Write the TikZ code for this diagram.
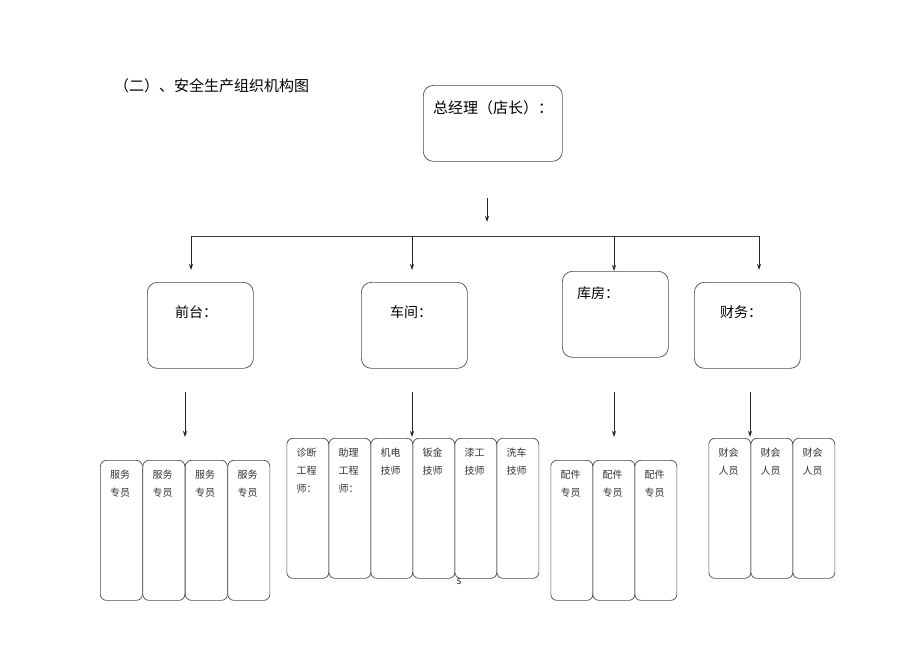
\documentclass[tikz,border=0pt]{standalone}
\usepackage{fontspec}
\setmainfont{Noto Sans CJK SC}
\usetikzlibrary{arrows.meta,calc}
\tikzset{
  box/.style={draw=black!70, line width=0.7pt, rounded corners=10pt, anchor=north west, inner sep=0pt},
  tbox/.style={draw=black!70, line width=0.7pt, rounded corners=6pt, anchor=north west, inner sep=0pt, minimum width=42pt, minimum height=140pt},
  ttext/.style={anchor=north west, inner sep=0pt, align=left, font=\fontsize{10}{18}\selectfont, text=black!80},
  btext/.style={anchor=west, inner sep=0pt, font=\fontsize{14}{16}\selectfont},
  arr/.style={draw=black!85, line width=0.8pt, -{Stealth[length=6pt,width=4pt]}},
  ln/.style={draw=black!75, line width=0.8pt}
}
\newcommand\tallbox[4]{%
  \node[tbox] (#1) at (#2,#3) {};
  \node[ttext] (#1t) at ($(#1.north west)+(10,10)$) {#4};}
\begin{document}
\begin{tikzpicture}[x=1pt,y=-1pt]
\useasboundingbox[fill=white] (0,0) rectangle (920,651);
% title
\node[anchor=west, inner sep=0pt, font=\fontsize{15}{17}\selectfont] (title) at (114,86) {（二）、安全生产组织机构图};
% top box
\node[box, minimum width=139pt, minimum height=76pt] (gm) at (423,85) {};
\node[anchor=west, inner sep=0pt, font=\fontsize{15}{17}\selectfont] (gmt) at (433,108) {总经理（店长）：};
% top arrow and bus
\coordinate (a0) at (487,198);
\coordinate (a1) at (487,222);
\draw[arr] (a0) -- (a1);
\coordinate (h1) at (191,236);
\coordinate (h2) at (412,236);
\coordinate (h3) at (614,236);
\coordinate (h4) at (759,236);
\draw[ln] (h1) -- (h4);
\coordinate (e1) at (191,270);
\coordinate (e2) at (412,270);
\coordinate (e3) at (614,271);
\coordinate (e4) at (759,270);
\draw[arr] (h1) -- (e1);
\draw[arr] (h2) -- (e2);
\draw[arr] (h3) -- (e3);
\draw[arr] (h4) -- (e4);
% second row
\node[box, minimum width=106pt, minimum height=86pt] (qt) at (147,282) {};
\node[btext] (qtt) at (175,312) {前台：};
\node[box, minimum width=106pt, minimum height=86pt] (cj) at (361,282) {};
\node[btext] (cjt) at (390,312) {车间：};
\node[box, minimum width=106pt, minimum height=86pt] (kf) at (562,271) {};
\node[btext] (kft) at (577,293) {库房：};
\node[box, minimum width=106pt, minimum height=86pt] (cw) at (694,282) {};
\node[btext] (cwt) at (720,312) {财务：};
% third-level arrows
\coordinate (s1) at (185,392); \coordinate (t1) at (185,437);
\coordinate (s2) at (412,392); \coordinate (t2) at (412,437);
\coordinate (s3) at (614,392); \coordinate (t3) at (614,437);
\coordinate (s4) at (750,392); \coordinate (t4) at (750,437);
\draw[arr] (s1) -- (t1);
\draw[arr] (s2) -- (t2);
\draw[arr] (s3) -- (t3);
\draw[arr] (s4) -- (t4);
% front desk staff
\tallbox{f1}{100}{460}{服务\\专员}
\tallbox{f2}{142.5}{460}{服务\\专员}
\tallbox{f3}{185}{460}{服务\\专员}
\tallbox{f4}{227.5}{460}{服务\\专员}
% workshop staff
\tallbox{w1}{286.5}{438}{诊断\\工程\\师：}
\tallbox{w2}{328.5}{438}{助理\\工程\\师：}
\tallbox{w3}{370.5}{438}{机电\\技师}
\tallbox{w4}{412.5}{438}{钣金\\技师}
\tallbox{w5}{454.5}{438}{漆工\\技师}
\tallbox{w6}{496.5}{438}{洗车\\技师}
% parts staff
\tallbox{p1}{550.5}{460}{配件\\专员}
\tallbox{p2}{592.5}{460}{配件\\专员}
\tallbox{p3}{634.5}{460}{配件\\专员}
% finance staff
\tallbox{c1}{708.5}{438}{财会\\人员}
\tallbox{c2}{750.5}{438}{财会\\人员}
\tallbox{c3}{792.5}{438}{财会\\人员}
% page number
\node[inner sep=0pt, font=\fontsize{8}{9}\selectfont] (pg) at (459,582) {5};
\end{tikzpicture}
\end{document}
